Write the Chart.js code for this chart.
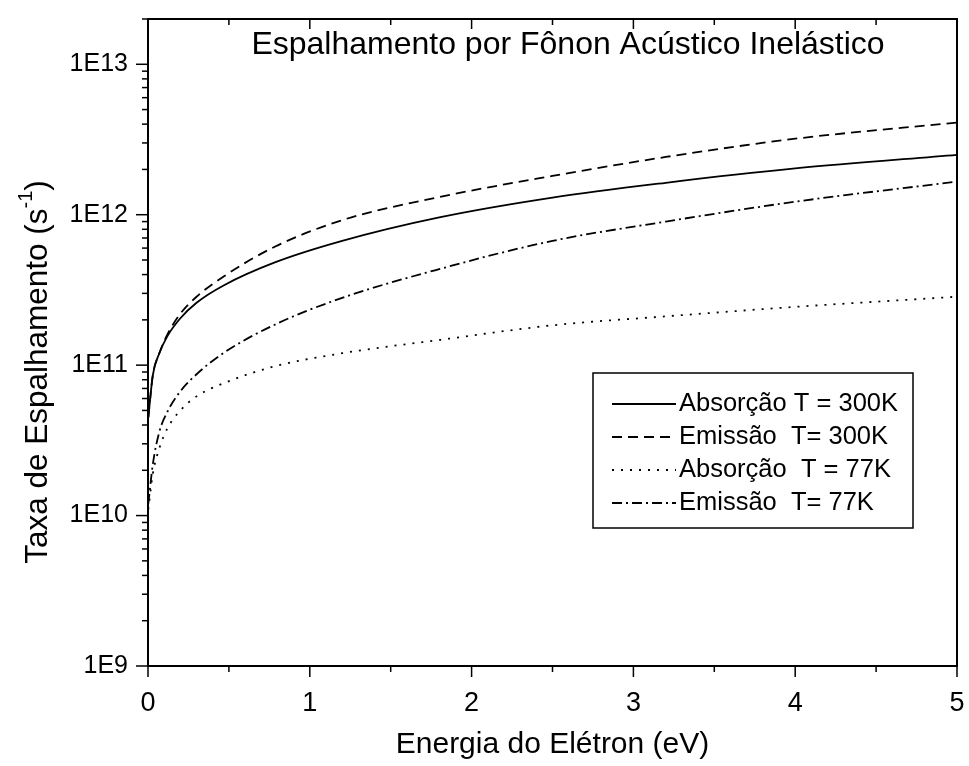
<!DOCTYPE html>
<html>
<head>
<meta charset="utf-8">
<script src="https://cdn.jsdelivr.net/npm/chart.js@4.4.1/dist/chart.umd.min.js"></script>
<style>
  html, body { margin: 0; padding: 0; background: #fff; }
  #wrap { width: 969px; height: 766px; }
</style>
</head>
<body>
<div id="wrap"><canvas id="grafico"></canvas></div>
<script>
// Energia do elétron (eV)
const energias = [0.002, 0.03, 0.07, 0.12, 0.2, 0.3, 0.47, 0.78, 1.2, 1.8, 2.5, 3.2, 4.0, 5.0];

// Taxas (s^-1)
const absorcao300 = [4.5e10, 8.6e10, 1.2e11, 1.56e11, 2.05e11, 2.6e11, 3.4e11, 4.8e11, 6.7e11, 9.6e11, 1.3e12, 1.63e12, 2.03e12, 2.5e12];
const emissao300  = [4.5e10, 8.6e10, 1.2e11, 1.6e11, 2.2e11, 2.85e11, 3.9e11, 6.1e11, 9.2e11, 1.31e12, 1.81e12, 2.42e12, 3.2e12, 4.1e12];
const absorcao77  = [1.1e10, 1.9e10, 2.8e10, 3.8e10, 5.0e10, 6.2e10, 7.6e10, 9.8e10, 1.2e11, 1.47e11, 1.84e11, 2.11e11, 2.44e11, 2.85e11];
const emissao77   = [1.2e10, 2.2e10, 3.6e10, 4.9e10, 6.7e10, 8.7e10, 1.21e11, 1.85e11, 2.8e11, 4.35e11, 6.7e11, 9.0e11, 1.22e12, 1.66e12];

const rotulos = ['Absorção T = 300K', 'Emissão  T= 300K', 'Absorção  T = 77K', 'Emissão  T= 77K'];
const tracos = [[], [10, 6], [2, 7], [10, 4, 2, 4]];
const series = [absorcao300, emissao300, absorcao77, emissao77];

const fonte = '"Liberation Sans", Arial, sans-serif';

function pontos(valores) {
  return energias.map((e, i) => ({ x: e, y: valores[i] }));
}

// tira o espaço extra que o Chart.js reserva para os rótulos
function semPadding(scale) {
  scale.paddingTop = 0;
  scale.paddingBottom = 0;
  scale.paddingLeft = 0;
  scale.paddingRight = 0;
}

// Eixos, título, legenda desenhados por cima
const decoracao = {
  id: 'decoracao',
  afterDraw(chart) {
    const ctx = chart.ctx;
    const a = chart.chartArea;
    const sx = chart.scales.x;
    const sy = chart.scales.y;
    ctx.save();
    ctx.strokeStyle = '#000';
    ctx.fillStyle = '#000';

    // moldura
    ctx.lineWidth = 2;
    ctx.strokeRect(a.left, a.top, a.right - a.left, a.bottom - a.top);

    // ticks do eixo x (embaixo para fora, em cima para dentro)
    ctx.lineWidth = 1.5;
    for (let v = 0; v <= 5.0001; v += 0.5) {
      const px = sx.getPixelForValue(v);
      const maior = Math.abs(v - Math.round(v)) < 1e-6;
      ctx.beginPath();
      ctx.moveTo(px, a.bottom);
      ctx.lineTo(px, a.bottom + (maior ? 11 : 6));
      ctx.moveTo(px, a.top);
      ctx.lineTo(px, a.top + (maior ? 10 : 6));
      ctx.stroke();
    }

    // ticks do eixo y (log)
    for (let p = 9; p <= 13; p++) {
      for (let m = 1; m <= 9; m++) {
        const v = m * Math.pow(10, p);
        if (v > sy.max * 1.0001) break;
        const py = sy.getPixelForValue(v);
        ctx.beginPath();
        ctx.moveTo(a.left, py);
        ctx.lineTo(a.left - (m === 1 ? 12 : 6), py);
        ctx.stroke();
      }
    }

    // título dentro do gráfico
    ctx.font = '32px ' + fonte;
    ctx.textAlign = 'center';
    ctx.textBaseline = 'middle';
    ctx.fillText('Espalhamento por Fônon Acústico Inelástico', 568, 45);

    // título do eixo y com sobrescrito
    ctx.save();
    ctx.translate(38, 372);
    ctx.rotate(-Math.PI / 2);
    const f1 = '31.5px ' + fonte;
    const f2 = '20px ' + fonte;
    ctx.font = f1;
    const t1 = 'Taxa de Espalhamento (s';
    const w1 = ctx.measureText(t1).width;
    const w3 = ctx.measureText(')').width;
    ctx.font = f2;
    const w2 = ctx.measureText('-1').width;
    const x0 = -(w1 + w2 + w3) / 2;
    ctx.textAlign = 'left';
    ctx.font = f1;
    ctx.fillText(t1, x0, 0);
    ctx.font = f2;
    ctx.fillText('-1', x0 + w1, -12);
    ctx.font = f1;
    ctx.fillText(')', x0 + w1 + w2, 0);
    ctx.restore();

    // legenda
    ctx.lineWidth = 1.5;
    ctx.setLineDash([]);
    ctx.strokeRect(593, 373, 320, 155);
    ctx.font = '25.5px ' + fonte;
    ctx.textAlign = 'left';
    ctx.textBaseline = 'middle';
    chart.data.datasets.forEach((ds, i) => {
      const y = 404 + i * 33;
      ctx.setLineDash(ds.borderDash || []);
      ctx.lineWidth = ds.borderWidth;
      ctx.beginPath();
      ctx.moveTo(612, y);
      ctx.lineTo(676, y);
      ctx.stroke();
      ctx.setLineDash([]);
      ctx.fillText(ds.label, 679, y);
    });
    ctx.restore();
  }
};

new Chart(document.getElementById('grafico'), {
  type: 'line',
  data: {
    datasets: series.map((s, i) => ({
      label: rotulos[i],
      data: pontos(s),
      borderColor: '#000',
      borderWidth: 1.8,
      borderDash: tracos[i],
      pointRadius: 0,
      fill: false,
      cubicInterpolationMode: 'monotone'
    }))
  },
  options: {
    responsive: true,
    maintainAspectRatio: false,
    animation: false,
    layout: { padding: { top: 19, right: 12, left: 0, bottom: 0 } },
    plugins: {
      legend: { display: false },
      tooltip: { enabled: false },
      title: { display: false }
    },
    scales: {
      x: {
        type: 'linear',
        min: 0,
        max: 5,
        grid: { display: false, drawTicks: false },
        border: { display: false },
        ticks: {
          stepSize: 1,
          padding: 21,
          color: '#000',
          font: { family: fonte, size: 27 },
          maxRotation: 0
        },
        title: {
          display: true,
          text: 'Energia do Elétron (eV)',
          color: '#000',
          font: { family: fonte, size: 30 },
          padding: { top: 0, bottom: 3 }
        },
        afterFit: (scale) => { scale.height = 100; semPadding(scale); }
      },
      y: {
        type: 'logarithmic',
        min: 1e9,
        max: 2e13,
        grid: { display: false, drawTicks: false },
        border: { display: false },
        ticks: {
          autoSkip: false,
          padding: 20,
          color: '#000',
          font: { family: fonte, size: 25 },
          callback: (v) => {
            const l = Math.log10(v);
            return Math.abs(l - Math.round(l)) < 1e-9 ? '1E' + Math.round(l) : '';
          }
        },
        afterFit: (scale) => { scale.width = 148; semPadding(scale); }
      }
    }
  },
  plugins: [decoracao]
});
</script>
</body>
</html>
